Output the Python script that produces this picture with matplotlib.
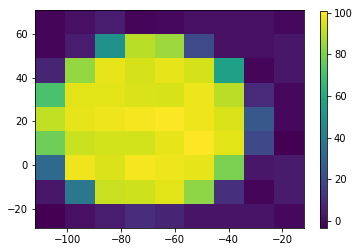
import numpy as np
import matplotlib
matplotlib.use("Agg")
import matplotlib.pyplot as plt

# cell edges
x_edges = np.linspace(-112, -12, 10)
y_edges = np.linspace(-28.89, 71.11, 10)

# values, written top row first
rows_top_down = [
    [-2, 1, 5, -2, -1, 1, 1, 1, -1],
    [-2, 5, 49, 90, 85, 20, 1, 1, 3],
    [7, 84, 97, 94, 97, 94, 56, -2, 3],
    [71, 96, 96, 95, 94.5, 98, 90, 9, -1],
    [91, 97, 98, 99.5, 100, 98, 95, 25, -1],
    [78, 92.5, 93.5, 93.5, 97, 100.8, 96, 19, -3.4],
    [32, 98, 95, 99.5, 98, 97, 80, 3, 4],
    [3, 38, 92, 93, 96, 83, 11, -2, 4],
    [-3, 1, 5, 10, 7, 2, 2, 2, -1],
]
z = np.array(rows_top_down[::-1])

fig = plt.figure(figsize=(363 / 72, 252 / 72), dpi=72)
ax = fig.add_axes([35 / 363, 1 - 228 / 252, 269 / 363, 218 / 252])
mesh = ax.pcolormesh(x_edges, y_edges, z, cmap="viridis")
ax.set_xticks([-100, -80, -60, -40, -20])
ax.set_yticks([-20, 0, 20, 40, 60])

cax = fig.add_axes([320 / 363, 1 - 228 / 252, 7 / 363, 217 / 252])
cb = fig.colorbar(mesh, cax=cax)
cb.set_ticks([0, 20, 40, 60, 80, 100])

fig.savefig("out.png", dpi=72)
